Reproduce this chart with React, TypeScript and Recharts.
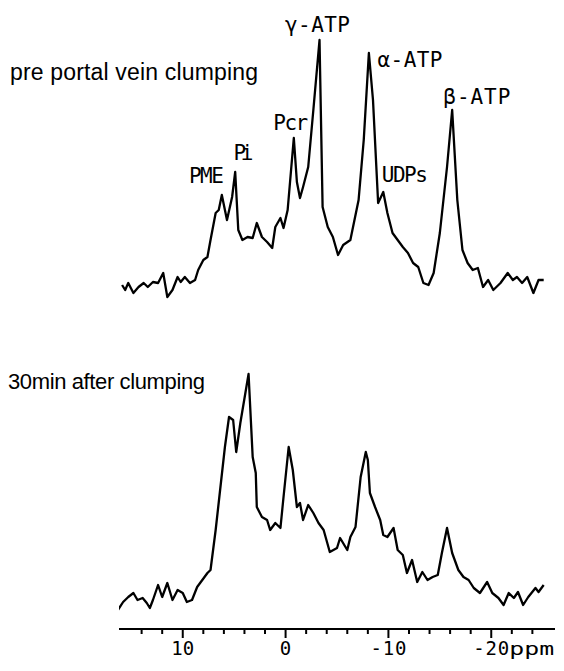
import { Line, LineChart, ReferenceDot, XAxis, YAxis } from 'recharts'

// chemical shift (ppm) and signal height (arbitrary units)
const preShift = [
  15.9, 15.6, 15.3, 14.8, 14.3, 13.8, 13.4, 12.9, 12.4, 11.9, 11.5, 11.0, 10.5, 10.2, 9.8, 9.3,
  8.8, 8.5, 8.0, 7.6, 7.3, 6.8, 6.5, 6.2, 5.7, 5.2, 4.9, 4.6, 4.2, 3.7, 3.2, 2.8, 2.3, 1.8, 1.3,
  1.0, 0.5, 0.2, -0.2, -0.8, -1.1, -1.4, -1.7, -2.2, -2.7, -3.3, -3.6, -4.1, -4.6, -5.1, -5.6,
  -6.3, -7.1, -7.6, -8.1, -8.5, -9.0, -9.5, -9.9, -10.4, -10.9, -11.4, -11.9, -12.4, -12.9,
  -13.4, -13.9, -14.4, -15.0, -15.7, -16.2, -16.7, -17.2, -17.7, -18.2, -18.7, -19.2, -19.7,
  -20.2, -20.9, -21.6, -22.1, -22.5, -23.0, -23.5, -24.1, -24.6, -25.1,
]
const preIntensity = [
  15, 10, 17, 7, 13, 17, 13, 18, 17, 27, 3, 10, 23, 18, 23, 17,
  20, 30, 40, 43, 60, 87, 90, 105, 80, 103, 128, 70, 60, 63, 62, 77, 63, 58, 52,
  73, 82, 72, 90, 162, 118, 102, 113, 133, 190, 260, 93, 73, 63, 45, 55,
  60, 100, 160, 247, 200, 97, 108, 87, 67, 60, 53, 47, 37, 33,
  17, 15, 27, 67, 133, 190, 100, 50, 37, 30, 32, 13, 20,
  10, 17, 27, 20, 23, 17, 23, 7, 20, 20,
]

const postShift = [
  16.3, 15.8, 15.3, 14.8, 14.4, 13.9, 13.5, 13.2, 12.9, 12.4, 12.0, 11.5, 11.0, 10.5, 10.0, 9.6,
  9.1, 8.6, 8.1, 7.6, 7.3, 6.8, 6.4, 5.9, 5.5, 5.1, 4.8, 4.4, 3.6, 3.2, 2.9, 2.8, 2.3, 1.8, 1.5,
  1.0, 0.5, 0.2, -0.3, -0.7, -1.1, -1.4, -1.7, -2.2, -2.7, -3.2, -3.7, -4.3, -5.0, -5.3, -6.0,
  -6.3, -6.8, -7.3, -7.8, -8.0, -8.2, -8.7, -9.2, -9.5, -9.9, -10.5, -10.9, -11.4, -11.8,
  -12.3, -12.8, -13.3, -13.8, -14.3, -14.8, -15.2, -15.7, -16.2, -16.8, -17.3, -17.8, -18.3,
  -18.9, -19.6, -20.1, -20.7, -21.2, -21.7, -22.2, -22.6, -23.1, -23.6, -24.3, -24.6, -25.1,
]
const postIntensity = [
  19, 27, 32, 36, 29, 31, 26, 21, 29, 44, 32, 46, 29, 39, 36, 27,
  29, 42, 49, 56, 59, 99, 136, 182, 212, 209, 177, 206, 255, 172, 156, 122, 112, 109, 99,
  106, 101, 132, 182, 159, 122, 126, 109, 124, 116, 106, 99, 77, 81, 91, 79,
  92, 102, 152, 177, 169, 136, 122, 109, 94, 92, 101, 79, 74, 56,
  69, 47, 57, 49, 52, 54, 76, 101, 76, 59, 52, 49, 41,
  36, 47, 36, 31, 24, 36, 31, 37, 24, 32, 41, 37, 44,
]

const tickValues = [14, 12, 10, 8, 6, 4, 2, 0, -2, -4, -6, -8, -10, -12, -14, -16, -18, -20, -22, -24]

const peakNames = ['PME', 'Pi', 'Pcr', 'γ-ATP', 'α-ATP', 'UDPs', 'β-ATP']
const peakShift = [7.7, 4.1, -0.5, -3.1, -12.1, -11.6, -18.6]
const peakHeight = [117, 140, 170, 268, 233, 118, 196]
const peakWidth = [35, 20, 35, 65, 65, 46, 67]

const preData = preShift.map((ppm, i) => ({ ppm, intensity: preIntensity[i] }))
const postData = postShift.map((ppm, i) => ({ ppm, intensity: postIntensity[i] }))

const domain: [number, number] = [-26.2, 16.2]
const monoFont = '"DejaVu Sans Mono", monospace'
const ink = '#000'

function PpmTick(props: any) {
  const { x, y, payload } = props
  const v = payload.value
  const major = v % 10 === 0
  const len = String(v).length
  return (
    <g>
      <line x1={x} x2={x} y1={y} y2={y + (major ? 9 : 5)} stroke={ink} strokeWidth={2} />
      {major && (
        <text
          x={x}
          y={y + 26}
          textAnchor="middle"
          fontFamily={monoFont}
          fontSize={19}
          fill={ink}
          textLength={len === 1 ? 9 : len === 2 ? 23 : 36}
          lengthAdjust="spacing"
        >
          {v}
        </text>
      )}
      {v === -20 && (
        <text x={x + 18} y={y + 26} fontFamily={monoFont} fontSize={18} fill={ink} textLength={45} lengthAdjust="spacingAndGlyphs">
          ppm
        </text>
      )}
    </g>
  )
}

function peakLabel(i: number) {
  return (props: any) => (
    <text
      x={props.cx}
      y={props.cy}
      textAnchor="middle"
      fontFamily={monoFont}
      fontSize={21}
      fill={ink}
      textLength={peakWidth[i]}
      lengthAdjust="spacing"
    >
      {peakNames[i]}
    </text>
  )
}

export default function App() {
  return (
    <div style={{ position: 'absolute', left: 0, top: 0, width: 564, height: 671, background: '#fff' }}>
      <div style={{ position: 'absolute', left: 0, top: 0 }}>
        <LineChart width={564} height={310} data={preData} margin={{ top: 30, right: 9, left: 119, bottom: 10 }}>
          <XAxis type="number" dataKey="ppm" domain={domain} reversed hide allowDataOverflow />
          <YAxis type="number" domain={[0, 270]} hide allowDataOverflow />
          <Line
            type="linear"
            dataKey="intensity"
            stroke={ink}
            strokeWidth={2.3}
            strokeLinejoin="round"
            dot={false}
            isAnimationActive={false}
          />
          {peakNames.map((name, i) => (
            <ReferenceDot
              key={name}
              x={peakShift[i]}
              y={peakHeight[i]}
              r={0}
              ifOverflow="visible"
              shape={peakLabel(i)}
            />
          ))}
        </LineChart>
      </div>
      <div style={{ position: 'absolute', left: 0, top: 310 }}>
        <LineChart width={564} height={361} data={postData} margin={{ top: 50, right: 9, left: 119, bottom: 0 }}>
          <XAxis
            type="number"
            dataKey="ppm"
            domain={domain}
            reversed
            allowDataOverflow
            ticks={tickValues}
            interval={0}
            height={42}
            tickSize={0}
            tickMargin={0}
            tickLine={false}
            axisLine={{ stroke: ink, strokeWidth: 2 }}
            tick={<PpmTick />}
          />
          <YAxis type="number" domain={[0, 269]} hide allowDataOverflow />
          <Line
            type="linear"
            dataKey="intensity"
            stroke={ink}
            strokeWidth={2.3}
            strokeLinejoin="round"
            dot={false}
            isAnimationActive={false}
          />
        </LineChart>
      </div>
      <svg width={564} height={671} style={{ position: 'absolute', left: 0, top: 0, pointerEvents: 'none' }}>
        <text x={10} y={80} fontFamily='"Liberation Sans", Arial, sans-serif' fontSize={23} fill={ink} textLength={248} lengthAdjust="spacing">
          pre portal vein clumping
        </text>
        <text x={8} y={389} fontFamily='"Liberation Sans", Arial, sans-serif' fontSize={22} fill={ink} textLength={197} lengthAdjust="spacing">
          30min after clumping
        </text>
      </svg>
    </div>
  )
}
